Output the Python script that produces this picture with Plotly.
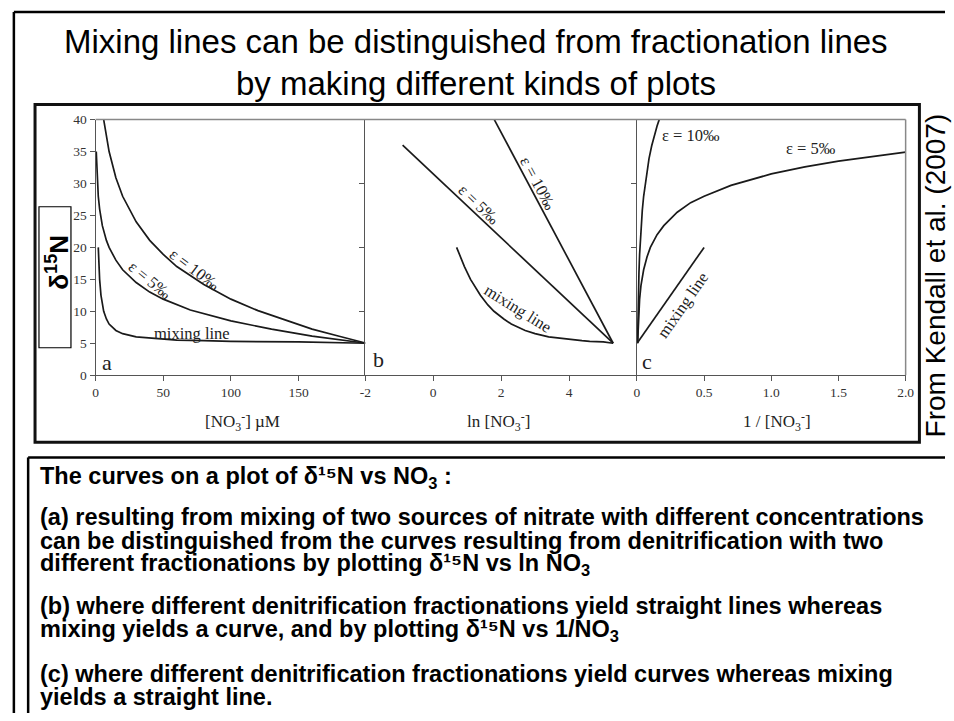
import plotly.graph_objects as go

# ---------------- data ----------------
# Panel a: d15N vs [NO3-] (uM)
a_eps10_x = [6, 8, 10, 15, 20, 30, 40, 50, 60, 80, 100, 120, 140, 160, 180, 200]
a_eps10_y = [40.0, 37.2, 35.0, 30.9, 28.0, 24.0, 21.1, 18.9, 17.0, 14.2, 11.9, 10.1, 8.6, 7.2, 6.1, 5.0]
a_eps5_x = [0.5, 1, 2, 3, 5, 8, 10, 15, 20, 30, 40, 50, 70, 100, 130, 160, 200]
a_eps5_y = [35.0, 31.5, 28.0, 26.0, 23.4, 21.1, 20.0, 18.0, 16.5, 14.5, 13.0, 11.9, 10.2, 8.5, 7.2, 6.1, 5.0]
a_mix_x = [2, 2.5, 3, 4, 5, 6, 8, 10, 15, 20, 30, 40, 60, 80, 100, 150, 200]
a_mix_y = [20.0, 17.0, 15.0, 12.5, 11.0, 10.0, 8.8, 8.0, 7.0, 6.5, 6.0, 5.8, 5.5, 5.4, 5.3, 5.2, 5.0]

# Panel b: d15N vs ln[NO3-]
b_eps10_x = [1.8, 5.3]
b_eps10_y = [40.0, 5.0]
b_eps5_x = [-0.9, 5.3]
b_eps5_y = [36.0, 5.0]
b_mix_x = [0.69, 0.92, 1.10, 1.39, 1.61, 1.79, 2.08, 2.30, 2.71, 3.00, 3.40, 3.69, 4.09, 4.38, 4.61, 5.01, 5.30]
b_mix_y = [20.0, 17.0, 15.0, 12.5, 11.0, 10.0, 8.8, 8.0, 7.0, 6.5, 6.0, 5.8, 5.5, 5.4, 5.3, 5.2, 5.0]

# Panel c: d15N vs 1/[NO3-]
c_eps10_x = [0.005, 0.006, 0.008, 0.010, 0.015, 0.020, 0.030, 0.040, 0.050, 0.070, 0.090, 0.110, 0.130, 0.150, 0.166]
c_eps10_y = [5.0, 6.8, 9.7, 11.9, 16.0, 18.9, 22.9, 25.8, 28.0, 31.4, 33.9, 35.9, 37.6, 39.0, 40.0]
c_eps5_x = [0.005, 0.010, 0.020, 0.030, 0.050, 0.075, 0.10, 0.15, 0.20, 0.30, 0.40, 0.50, 0.70, 1.00, 1.25, 1.50, 1.75, 2.00]
c_eps5_y = [5.0, 8.5, 11.9, 14.0, 16.5, 18.5, 20.0, 22.0, 23.4, 25.5, 27.0, 28.0, 29.7, 31.5, 32.6, 33.5, 34.2, 34.9]
c_mix_x = [0.005, 0.5]
c_mix_y = [5.1, 20.0]

# tick labels
a_xticks = [0, 50, 100, 150]
b_xticks = [-2, 0, 2, 4]
b_xticklabels = ["-2", "0", "2", "4"]
c_xticks = [0, 0.5, 1.0, 1.5, 2.0]
c_xticklabels = ["0", "0.5", "1.0", "1.5", "2.0"]
y_ticks = [0, 5, 10, 15, 20, 25, 30, 35, 40]

title_lines = ["Mixing lines can be distinguished from fractionation lines",
               "by making different kinds of plots"]
caption_lines = [
    "The curves on a plot of δ¹⁵N vs NO<sub>3</sub> :",
    "(a) resulting from mixing of two sources of nitrate with different concentrations",
    "can be distinguished from the curves resulting from denitrification with two",
    "different fractionations by plotting δ¹⁵N vs ln NO<sub>3</sub>",
    "(b) where different denitrification fractionations yield straight lines whereas",
    "mixing yields a curve, and by plotting δ¹⁵N vs 1/NO<sub>3</sub>",
    "(c) where different denitrification fractionations yield curves whereas mixing",
    "yields a straight line.",
]
caption_y = [480, 521, 545, 569, 612, 637, 681, 705]

# ---------------- layout helpers ----------------
W, H = 954, 721
def px(x):
    return x / W
def py(y):
    return 1 - y / H

SERIF = "Liberation Serif"
SANS = "Liberation Sans"
LINE = dict(color="#1a1a1a", width=1.7)

fig = go.Figure()
series = [
    ("x", "y", a_eps10_x, a_eps10_y), ("x", "y", a_eps5_x, a_eps5_y), ("x", "y", a_mix_x, a_mix_y),
    ("x2", "y2", b_eps10_x, b_eps10_y), ("x2", "y2", b_eps5_x, b_eps5_y), ("x2", "y2", b_mix_x, b_mix_y),
    ("x3", "y3", c_eps10_x, c_eps10_y), ("x3", "y3", c_eps5_x, c_eps5_y), ("x3", "y3", c_mix_x, c_mix_y),
]
for xa, ya, xs, ys in series:
    fig.add_trace(go.Scatter(x=xs, y=ys, xaxis=xa, yaxis=ya, mode="lines",
                             line=LINE, showlegend=False, hoverinfo="skip"))

ydom = [py(376), py(115)]
axis_common = dict(showgrid=False, zeroline=False, showline=True, linecolor="#555", linewidth=1,
                   ticks="outside", ticklen=5, tickcolor="#555",
                   tickfont=dict(family=SERIF, size=13.5, color="#333"))

fig.update_layout(
    width=W, height=H, margin=dict(l=0, r=0, t=0, b=0),
    paper_bgcolor="white", plot_bgcolor="white", showlegend=False,
    xaxis=dict(domain=[px(91), px(366)], range=[0, 200], tickvals=a_xticks, anchor="y", **axis_common),
    xaxis2=dict(domain=[px(365), px(641)], range=[-2, 6], tickvals=b_xticks, ticktext=b_xticklabels,
                anchor="y2", **axis_common),
    xaxis3=dict(domain=[px(641), px(914)], range=[0, 2], tickvals=c_xticks, ticktext=c_xticklabels,
                anchor="y3", **axis_common),
    yaxis=dict(domain=ydom, range=[0, 40], tickvals=y_ticks, anchor="x", **axis_common),
    yaxis2=dict(domain=ydom, range=[0, 40], tickvals=[10, 20, 30], showticklabels=False, anchor="x2", **axis_common),
    yaxis3=dict(domain=ydom, range=[0, 40], tickvals=[10, 20, 30], showticklabels=False, anchor="x3", **axis_common),
)

shapes = []
# outer slide lines
shapes.append(dict(type="line", xref="paper", yref="paper", x0=px(8), x1=1, y0=py(5), y1=py(5),
                   line=dict(color="black", width=2.5)))
shapes.append(dict(type="line", xref="paper", yref="paper", x0=px(8), x1=px(8), y0=py(5), y1=0,
                   line=dict(color="black", width=2.5)))
# figure frame
shapes.append(dict(type="rect", xref="paper", yref="paper", x0=px(29.5), x1=px(928), y0=py(444.5), y1=py(99.5),
                   line=dict(color="#111", width=3)))
# plot top / right border (grey)
shapes.append(dict(type="line", xref="paper", yref="paper", x0=px(91), x1=px(914), y0=py(115), y1=py(115),
                   line=dict(color="#888", width=1.5)))
shapes.append(dict(type="line", xref="paper", yref="paper", x0=px(914), x1=px(914), y0=py(115), y1=py(376),
                   line=dict(color="#888", width=1.5)))
# caption box
shapes.append(dict(type="line", xref="paper", yref="paper", x0=px(22.5), x1=1, y0=py(460), y1=py(460),
                   line=dict(color="black", width=2.5)))
shapes.append(dict(type="line", xref="paper", yref="paper", x0=px(22.5), x1=px(22.5), y0=py(460), y1=0,
                   line=dict(color="black", width=2.5)))
# y label box
shapes.append(dict(type="rect", xref="paper", yref="paper", x0=px(33.5), x1=px(66), y0=py(348), y1=py(204),
                   line=dict(color="black", width=1.2)))
fig.update_layout(shapes=shapes)

ann = []
for t, yy in zip(title_lines, [35, 78]):
    ann.append(dict(text=t, xref="paper", yref="paper", x=px(477), y=py(yy), showarrow=False,
                    xanchor="center", yanchor="middle", font=dict(family=SANS, size=33, color="black")))
for t, yy in zip(caption_lines, caption_y):
    ann.append(dict(text="<b>" + t + "</b>", xref="paper", yref="paper", x=px(33), y=py(yy), showarrow=False,
                    xanchor="left", yanchor="middle", align="left",
                    font=dict(family=SANS, size=23.5, color="black")))
# right attribution
ann.append(dict(text="From Kendall et al. (2007)", xref="paper", yref="paper", x=px(944), y=py(274),
                showarrow=False, textangle=-90, xanchor="center", yanchor="middle",
                font=dict(family=SANS, size=28, color="black")))
# y label
ann.append(dict(text="<b>δ<sup>15</sup>N</b>", xref="paper", yref="paper", x=px(52), y=py(261),
                showarrow=False, textangle=-90, xanchor="center", yanchor="middle",
                font=dict(family=SANS, size=26, color="black")))
# axis titles
for t, xx in [("[NO<sub>3</sub><sup>-</sup>] µM", 240), ("ln [NO<sub>3</sub><sup>-</sup>]", 500),
              ("1 / [NO<sub>3</sub><sup>-</sup>]", 783)]:
    ann.append(dict(text=t, xref="paper", yref="paper", x=px(xx), y=py(423), showarrow=False,
                    xanchor="center", yanchor="middle", font=dict(family=SERIF, size=17, color="#222")))

lab = dict(family=SERIF, size=16.5, color="#222")
big = dict(family=SERIF, size=22, color="#222")
panel_labels = [
    ("x", "y", "a", 8.7, 2.0, 0, big),
    ("x", "y", "ε = 10‰", 73.3, 16.6, 37, lab),
    ("x", "y", "ε = 5‰", 40.5, 14.8, 39, lab),
    ("x", "y", "mixing line", 71.3, 6.6, 0, lab),
    ("x2", "y2", "b", -1.62, 2.45, 0, big),
    ("x2", "y2", "ε = 10‰", 3.09, 30.0, 62, lab),
    ("x2", "y2", "ε = 5‰", 1.34, 26.7, 44, lab),
    ("x2", "y2", "mixing line", 2.49, 10.4, 32, lab),
    ("x3", "y3", "c", 0.078, 2.2, 0, big),
    ("x3", "y3", "ε = 10‰", 0.404, 37.5, 0, lab),
    ("x3", "y3", "ε = 5‰", 1.296, 35.4, 0, lab),
    ("x3", "y3", "mixing line", 0.346, 11.0, -55, lab),
]
for xr, yr, t, xx, yy, ang, f in panel_labels:
    ann.append(dict(text=t, xref=xr, yref=yr, x=xx, y=yy, showarrow=False, textangle=ang,
                    xanchor="center", yanchor="middle", font=f))
fig.update_layout(annotations=ann)

fig.write_html("out.html", config={"displayModeBar": False},
               post_script="document.documentElement.style.margin='0';document.body.style.margin='0';"
                           "document.body.style.overflow='hidden';")
